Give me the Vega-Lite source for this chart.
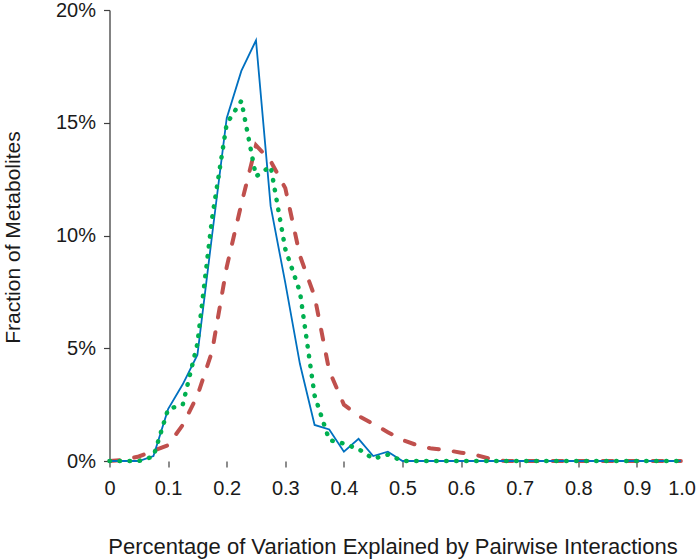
{
  "$schema": "https://vega.github.io/schema/vega-lite/v6.json",
  "width": 586,
  "height": 451,
  "autosize": "none",
  "padding": {"left": 109.5, "top": 10, "right": 4.5, "bottom": 98},
  "background": "white",
  "config": {"view": {"stroke": null}, "font": "Liberation Sans"},
  "datasets": {
    "blue": [
      {"x": 0, "v": 0}, {"x": 0.025, "v": 0}, {"x": 0.05, "v": 0}, {"x": 0.075, "v": 0.22},
      {"x": 0.1, "v": 2.3}, {"x": 0.125, "v": 3.4}, {"x": 0.15, "v": 4.7}, {"x": 0.175, "v": 10.0},
      {"x": 0.2, "v": 15.2}, {"x": 0.225, "v": 17.3}, {"x": 0.25, "v": 18.65}, {"x": 0.275, "v": 11.3},
      {"x": 0.3, "v": 7.9}, {"x": 0.325, "v": 4.3}, {"x": 0.35, "v": 1.6}, {"x": 0.375, "v": 1.4},
      {"x": 0.4, "v": 0.41}, {"x": 0.425, "v": 0.98}, {"x": 0.45, "v": 0.22}, {"x": 0.475, "v": 0.41},
      {"x": 0.5, "v": 0}, {"x": 0.525, "v": 0}, {"x": 0.55, "v": 0}, {"x": 0.575, "v": 0},
      {"x": 0.6, "v": 0}, {"x": 0.625, "v": 0}, {"x": 0.65, "v": 0}, {"x": 0.675, "v": 0},
      {"x": 0.7, "v": 0}, {"x": 0.725, "v": 0}, {"x": 0.75, "v": 0}, {"x": 0.775, "v": 0},
      {"x": 0.8, "v": 0}, {"x": 0.825, "v": 0}, {"x": 0.85, "v": 0}, {"x": 0.875, "v": 0},
      {"x": 0.9, "v": 0}, {"x": 0.925, "v": 0}, {"x": 0.95, "v": 0}, {"x": 0.975, "v": 0}
    ],
    "green": [
      {"x": 0, "v": 0}, {"x": 0.025, "v": 0}, {"x": 0.05, "v": 0}, {"x": 0.075, "v": 0.2},
      {"x": 0.1, "v": 2.3}, {"x": 0.125, "v": 2.5}, {"x": 0.15, "v": 5.2}, {"x": 0.175, "v": 10.75},
      {"x": 0.2, "v": 14.96}, {"x": 0.225, "v": 15.97}, {"x": 0.25, "v": 12.62}, {"x": 0.275, "v": 13.07},
      {"x": 0.3, "v": 9.4}, {"x": 0.325, "v": 7.5}, {"x": 0.35, "v": 2.9}, {"x": 0.375, "v": 0.93},
      {"x": 0.4, "v": 0.77}, {"x": 0.425, "v": 0.53}, {"x": 0.45, "v": 0.1}, {"x": 0.475, "v": 0.28},
      {"x": 0.5, "v": 0}, {"x": 0.525, "v": 0}, {"x": 0.55, "v": 0}, {"x": 0.575, "v": 0},
      {"x": 0.6, "v": 0}, {"x": 0.625, "v": 0}, {"x": 0.65, "v": 0}, {"x": 0.675, "v": 0},
      {"x": 0.7, "v": 0}, {"x": 0.725, "v": 0}, {"x": 0.75, "v": 0}, {"x": 0.775, "v": 0},
      {"x": 0.8, "v": 0}, {"x": 0.825, "v": 0}, {"x": 0.85, "v": 0}, {"x": 0.875, "v": 0},
      {"x": 0.9, "v": 0}, {"x": 0.925, "v": 0}, {"x": 0.95, "v": 0}, {"x": 0.975, "v": 0}
    ],
    "red": [
      {"x": 0, "v": 0}, {"x": 0.025, "v": 0.05}, {"x": 0.05, "v": 0.2}, {"x": 0.075, "v": 0.45},
      {"x": 0.1, "v": 0.7}, {"x": 0.125, "v": 1.6}, {"x": 0.15, "v": 2.9}, {"x": 0.175, "v": 4.85},
      {"x": 0.2, "v": 8.6}, {"x": 0.225, "v": 11.4}, {"x": 0.25, "v": 14.0}, {"x": 0.275, "v": 13.3},
      {"x": 0.3, "v": 12.1}, {"x": 0.325, "v": 9.1}, {"x": 0.35, "v": 7.3}, {"x": 0.375, "v": 4.0},
      {"x": 0.4, "v": 2.5}, {"x": 0.425, "v": 2.0}, {"x": 0.45, "v": 1.64}, {"x": 0.475, "v": 1.28},
      {"x": 0.5, "v": 0.93}, {"x": 0.525, "v": 0.7}, {"x": 0.55, "v": 0.55}, {"x": 0.575, "v": 0.48},
      {"x": 0.6, "v": 0.37}, {"x": 0.625, "v": 0.27}, {"x": 0.65, "v": 0.09}, {"x": 0.675, "v": 0},
      {"x": 0.7, "v": 0}, {"x": 0.725, "v": 0}, {"x": 0.75, "v": 0}, {"x": 0.775, "v": 0},
      {"x": 0.8, "v": 0}, {"x": 0.825, "v": 0}, {"x": 0.85, "v": 0}, {"x": 0.875, "v": 0},
      {"x": 0.9, "v": 0}, {"x": 0.925, "v": 0}, {"x": 0.95, "v": 0}, {"x": 0.975, "v": 0}
    ]
  },
  "encoding": {
    "x": {
      "field": "x",
      "type": "quantitative",
      "scale": {"domain": [0, 1], "nice": false, "zero": false},
      "axis": {
        "values": [0, 0.1, 0.2, 0.3, 0.4, 0.5, 0.6, 0.7, 0.8, 0.9, 1.0],
        "domain": false,
        "grid": false,
        "tickSize": 6,
        "tickWidth": 1.2,
        "tickColor": {"condition": {"test": "datum.value > 0.95", "value": "rgba(0,0,0,0)"}, "value": "#404040"},
        "labelExpr": "datum.value == 0 ? '0' : format(datum.value, '.1f')",
        "labelAlign": {"condition": {"test": "datum.value > 0.95", "value": "right"}, "value": "center"},
        "labelFlush": false,
        "labelOverlap": false,
        "labelBound": false,
        "labelFontSize": 20,
        "labelColor": "#1a1a1a",
        "labelPadding": 11,
        "title": "Percentage of Variation Explained by Pairwise Interactions",
        "titleFontSize": 22,
        "titleFontWeight": "normal",
        "titleColor": "#1a1a1a",
        "titleX": 283,
        "titleY": 92,
        "titleBaseline": "alphabetic",
        "titleAlign": "center"
      }
    },
    "y": {
      "field": "v",
      "type": "quantitative",
      "scale": {"domain": [0, 20], "nice": false},
      "axis": {
        "values": [0, 5, 10, 15, 20],
        "labelExpr": "datum.value + '%'",
        "grid": false,
        "domainColor": "#404040",
        "domainWidth": 1.3,
        "tickColor": "#404040",
        "tickWidth": 1.2,
        "tickSize": 6,
        "labelPadding": 8,
        "labelFontSize": 20,
        "labelColor": "#1a1a1a",
        "title": "Fraction of Metabolites",
        "titleFontSize": 21,
        "titleFontWeight": "normal",
        "titleColor": "#1a1a1a",
        "titleAngle": -90,
        "titleX": -90,
        "titleY": 227,
        "titleBaseline": "alphabetic",
        "titleAlign": "center"
      }
    }
  },
  "layer": [
    {
      "data": {"values": [{}]},
      "mark": {"type": "rule", "color": "#404040", "strokeWidth": 1.3},
      "encoding": {"x": {"datum": 0}, "x2": {"datum": 0.975}, "y": {"datum": 0}}
    },
    {
      "data": {"name": "red"},
      "mark": {"type": "line", "color": "#C0504D", "strokeWidth": 4, "strokeDash": [10, 15], "strokeCap": "round"}
    },
    {
      "data": {"name": "blue"},
      "mark": {"type": "line", "color": "#0070C0", "strokeWidth": 1.8}
    },
    {
      "data": {"name": "green"},
      "mark": {"type": "line", "color": "#00B050", "strokeWidth": 4.5, "strokeDash": [0.5, 9.5], "strokeCap": "round"}
    }
  ]
}
